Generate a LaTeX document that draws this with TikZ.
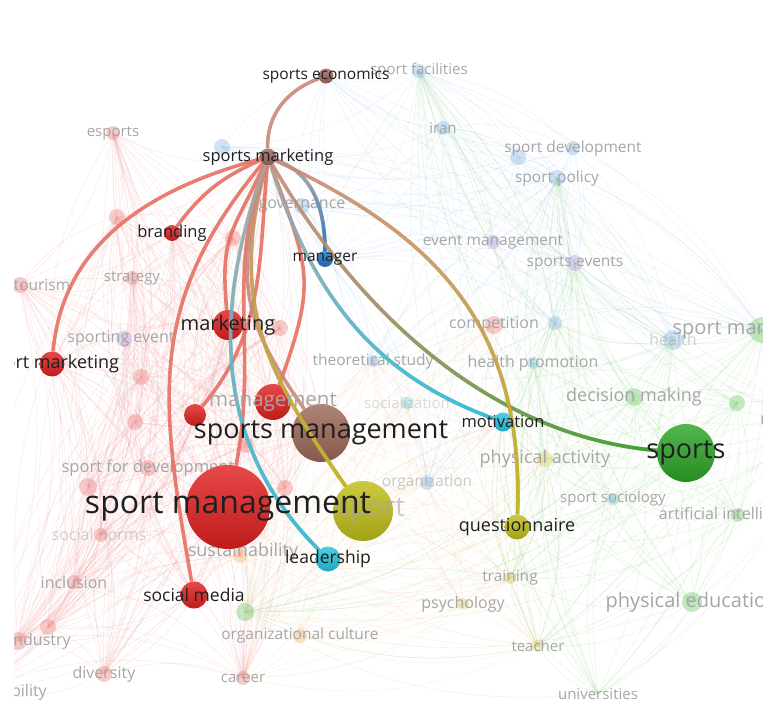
\documentclass[tikz,border=0pt]{standalone}
\usepackage{fontspec}
\setmainfont{Open Sans}
\usetikzlibrary{positioning,fadings}
\definecolor{vred}{RGB}{225,32,32}
\definecolor{vbrown}{RGB}{158,104,90}
\definecolor{volive}{RGB}{192,190,25}
\definecolor{vgreen}{RGB}{45,165,40}
\definecolor{vcyan}{RGB}{40,195,225}
\definecolor{vblue}{RGB}{35,115,200}
\definecolor{lnred}{RGB}{230,112,98}
\definecolor{lnbrown}{RGB}{200,138,122}
\definecolor{lngrey}{RGB}{172,165,160}
\definecolor{fpink}{RGB}{236,140,140}
\definecolor{fblue}{RGB}{150,190,230}
\definecolor{fgreen}{RGB}{130,205,120}
\definecolor{fyell}{RGB}{225,210,110}
\definecolor{fpurp}{RGB}{190,165,225}
\definecolor{fcyan}{RGB}{130,205,230}
\definecolor{forng}{RGB}{245,190,130}
\tikzset{
    %Define keyword bubbles
    bub/.style 2 args={
           circle, inner sep=0pt,
           minimum size=#2pt,
           top color=#1!82!white,
           bottom color=#1!85!black},
    fbub/.style 2 args={
           circle, inner sep=0pt,
           minimum size=#2pt,
           fill=#1, opacity=0.45},
    %Define labels
    tag/.style={
           font=\fontsize{#1}{#1}\selectfont,
           inner sep=0pt, text=black!88},
    ftag/.style={
           font=\fontsize{#1}{#1}\selectfont,
           inner sep=0pt, text=black!35},
    % Define link styles
    link/.style={
           draw=#1,
           line width=3.6pt,
           opacity=0.9},
    tint/.style={
           postaction={draw=#1, path fading=north}},
    web/.style={
           draw=#1,
           line width=0.7pt,
           opacity=0.16},
}
\begin{document}
\begin{tikzpicture}[x=1pt, y=1pt]
 \useasboundingbox (0,0) rectangle (763,702);
 \clip (14,0) rectangle (763,660);
 %positions
 \coordinate (econ) at (326,626);
 \coordinate (smkt) at (268,545);
 \coordinate (spmkt) at (52,338);
 \coordinate (brand) at (172,469);
 \coordinate (mgr) at (325,443);
 \coordinate (mkt) at (228,377);
 \coordinate (rsm) at (195,287);
 \coordinate (mgmt) at (273,300);
 \coordinate (smg) at (321,269);
 \coordinate (spm) at (228,195);
 \coordinate (sport) at (363,191);
 \coordinate (lead) at (328,143);
 \coordinate (socm) at (194,107);
 \coordinate (motiv) at (503,280);
 \coordinate (quest) at (517,175);
 \coordinate (sports) at (686,249);
 \coordinate (fac) at (419,631);
 \coordinate (iran) at (443,574);
 \coordinate (sdev) at (573,554);
 \coordinate (sdv2) at (518,545);
 \coordinate (spol) at (557,524);
 \coordinate (gov) at (302,496);
 \coordinate (bl1) at (222,555);
 \coordinate (hlth) at (673,362);
 \coordinate (bl2) at (555,379);
 \coordinate (theo) at (373,341);
 \coordinate (orgn) at (427,219);
 \coordinate (evm) at (493,460);
 \coordinate (sev) at (575,439);
 \coordinate (comp) at (494,377);
 \coordinate (hp) at (533,339);
 \coordinate (soc) at (613,203);
 \coordinate (sclz) at (407,299);
 \coordinate (smR) at (762,372);
 \coordinate (dm) at (634,305);
 \coordinate (gr1) at (737,299);
 \coordinate (mach) at (825,282);
 \coordinate (pe) at (692,100);
 \coordinate (ai) at (738,187);
 \coordinate (univ) at (598,8);
 \coordinate (gr2) at (245,90);
 \coordinate (pa) at (545,243);
 \coordinate (trn) at (510,124);
 \coordinate (psy) at (463,98);
 \coordinate (tch) at (538,56);
 \coordinate (oc) at (300,66);
 \coordinate (sust) at (240,146);
 \coordinate (car) at (243,24);
 \coordinate (esp) at (113,569);
 \coordinate (strat) at (132,424);
 \coordinate (tour) at (20,417);
 \coordinate (spev) at (124,363);
 \coordinate (sfd) at (148,234);
 \coordinate (pk1) at (88,215);
 \coordinate (snorm) at (101,167);
 \coordinate (incl) at (74,120);
 \coordinate (ind1) at (18,61);
 \coordinate (ind2) at (48,75);
 \coordinate (div) at (104,28);
 \coordinate (resp) at (-26,10);
 \coordinate (pk2) at (117,485);
 \coordinate (pk3) at (233,464);
 \coordinate (pk4) at (280,374);
 \coordinate (pk5) at (141,325);
 \coordinate (pk6) at (135,280);
 \coordinate (pk7) at (246,257);
 \coordinate (pk8) at (285,214);
 %faded links
 \foreach \grp/\ink in {
   {spmkt,brand,mkt,rsm,mgmt,spm,socm,smkt,esp,strat,tour,spev,sfd,pk1,snorm,incl,ind1,ind2,div,resp,pk2,pk3,pk4,pk5,pk6,pk7,pk8,car,sust,smg}/fpink,
   {fac,iran,sdev,sdv2,spol,gov,bl1,mgr,hlth,bl2,theo,orgn,smR,econ,evm,sev}/fblue,
   {sports,smR,dm,gr1,mach,pe,ai,univ,hlth,soc,hp,pa,tch,gr2,sev,spol,fac,trn,quest,motiv,bl2}/fgreen,
   {sport,quest,pa,trn,psy,tch,oc,sust,gr2,car,motiv,lead,orgn,smg,spm,comp,theo,sclz}/forng}
   \foreach \a [count=\i] in \grp
     \foreach \b [count=\j] in \grp
       {\ifnum\j>\i \draw[web=\ink] (\a) to[bend left=18] (\b); \fi}
 %faded keywords
 \foreach \p/\ink/\s in {fac/fblue/14, iran/fblue/14, sdev/fblue/14, sdv2/fblue/16,
   spol/fblue/16, gov/fblue/16, bl1/fblue/16, hlth/fblue/20, bl2/fblue/14, theo/fblue/12,
   orgn/fblue/14, evm/fpurp/14, sev/fpurp/16, comp/fpink/18, hp/fcyan/12, soc/fcyan/12,
   sclz/fcyan/12, smR/fgreen/26, dm/fgreen/18, gr1/fgreen/16, pe/fgreen/20, ai/fgreen/14,
   gr2/fgreen/18, pa/fyell/16, trn/fyell/12, psy/fyell/12, tch/fyell/12, oc/forng/14,
   sust/forng/14, car/fpink/14, esp/fpink/14, strat/fpink/14, tour/fpink/16, spev/fpurp/16,
   sfd/fpink/16, pk1/fpink/18, snorm/fpink/14, incl/fpink/14, ind1/fpink/18, ind2/fpink/16,
   div/fpink/16, pk2/fpink/16, pk3/fpink/16, pk4/fpink/16, pk5/fpink/16, pk6/fpink/16,
   pk7/fpink/16, pk8/fpink/16}
   \node[fbub={\ink}{\s}] (\p D) at (\p) {};
 \node[ftag=15] (facT) at (fac) {sport facilities};
 \node[ftag=15] (iranT) at (iran) {iran};
 \node[ftag=15.5] (sdevT) at (sdev) {sport development};
 \node[ftag=15.5] (spolT) at (spol) {sport policy};
 \node[ftag=16] (govT) at (gov) {governance};
 \node[ftag=16, text opacity=0.5] (hlthT) at (hlth) {health};
 \node[ftag=15.5] (theoT) at (theo) {theoretical study};
 \node[ftag=15.5, text opacity=0.6] (orgnT) at (orgn) {organization};
 \node[ftag=15.5] (evmT) at (evm) {event management};
 \node[ftag=15.5] (sevT) at (sev) {sports events};
 \node[ftag=16] (compT) at (comp) {competition};
 \node[ftag=16] (hpT) at (hp) {health promotion};
 \node[ftag=15] (socT) at (soc) {sport sociology};
 \node[ftag=15, text opacity=0.4] (sclzT) at (sclz) {socialization};
 \node[ftag=20] (smRT) at (smR) {sport management};
 \node[ftag=18] (dmT) at (dm) {decision making};
 \node[ftag=16] (machT) at (mach) {machine learning};
 \node[ftag=20] (peT) at (pe) {physical education};
 \node[ftag=16] (aiT) at ([xshift=-5]ai) {artificial intelligence};
 \node[ftag=15] (univT) at (univ) {universities};
 \node[ftag=18] (paT) at (pa) {physical activity};
 \node[ftag=15.5] (trnT) at (trn) {training};
 \node[ftag=16] (psyT) at (psy) {psychology};
 \node[ftag=15] (tchT) at (tch) {teacher};
 \node[ftag=15.5] (ocT) at ([yshift=1]oc) {organizational culture};
 \node[ftag=18] (sustT) at ([xshift=3,yshift=4]sust) {sustainability};
 \node[ftag=15] (carT) at (car) {career};
 \node[ftag=15] (espT) at (esp) {esports};
 \node[ftag=15] (stratT) at (strat) {strategy};
 \node[ftag=15.5] (tourT) at ([xshift=22]tour) {tourism};
 \node[ftag=16] (spevT) at ([xshift=-3]spev) {sporting event};
 \node[ftag=16.5] (sfdT) at (sfd) {sport for development};
 \node[ftag=16, text opacity=0.5] (snormT) at ([xshift=-2]snorm) {social norms};
 \node[ftag=16] (inclT) at (incl) {inclusion};
 \node[ftag=16] (indT) at ([xshift=22]ind1) {industry};
 \node[ftag=16] (divT) at (div) {diversity};
 \node[ftag=16] (respT) at (resp) {social responsibility};
 %keywords
 \node[bub={vred}{84}] (spmN) at (spm) {};
 \node[bub={volive}{60}] (sportN) at (sport) {};
 \node[bub={vbrown}{58}] (smgN) at (smg) {};
 \node[bub={vred}{36}] (mgmtN) at (mgmt) {};
 \node[bub={vred}{22}] (rsmN) at (rsm) {};
 \node[bub={vred}{30}] (mktN) at (mkt) {};
 \node[bub={vred}{25}] (spmktN) at (spmkt) {};
 \node[bub={vred}{16}] (brandN) at (brand) {};
 \node[bub={vred}{27}] (socmN) at (socm) {};
 \node[bub={vbrown}{17}] (smktN) at (smkt) {};
 \node[bub={vbrown}{15}] (econN) at (econ) {};
 \node[bub={vblue}{16}] (mgrN) at (mgr) {};
 \node[bub={vcyan}{25}] (leadN) at (lead) {};
 \node[bub={vcyan}{19}] (motivN) at (motiv) {};
 \node[bub={volive}{25}] (questN) at (quest) {};
 \node[bub={vgreen}{58}] (sportsN) at (sports) {};
 %links
 \draw[link=lnbrown] (smktN) to[out=92,in=200] (econN);
 \draw[link=lnred] (smktN) to[out=195,in=85] (spmktN);
 \draw[link=lnred] (smktN) to[bend right=15] (brandN);
 \draw[link=lnred] (smktN) to[out=245,in=95,looseness=1.3] (mktN);
 \draw[link=lnred] (smktN) to[out=265,in=50] (rsmN);
 \draw[link=lnred] (smktN) to[out=290,in=70,looseness=1.3] (mgmtN);
 \draw[link=lnred] (smktN) to[out=250,in=79] (spmN);
 \draw[link=lnred] (smktN) to[out=230,in=100,looseness=1.1] (socmN);
 \draw[link=lnbrown] (smktN) to[out=255,in=125,looseness=1.2] (smgN);
 \draw[link=lnbrown, tint=volive] (smktN) to[out=255,in=125,looseness=1.1] (sportN);
 \draw[link=lngrey, tint=vcyan] (smktN) to[out=250,in=135] (leadN);
 \draw[link=lngrey, tint=vblue] (smktN) to[out=340,in=90] (mgrN);
 \draw[link=lngrey, tint=vcyan] (smktN) to[out=288,in=160] (motivN);
 \draw[link=lnbrown, postaction={draw=vgreen, path fading=west}] (smktN) to[out=300,in=175,looseness=0.9] (sportsN);
 \draw[link=lnbrown, tint=volive] (smktN) to[out=335,in=88,looseness=1.1] (questN);
 %labels
 \node[ftag=20.5] (mgmtT) at (mgmt) {management};
 \node[ftag=28, text opacity=0.6] (sportT) at ([xshift=8]sport) {sport};
 \node[tag=15.5] (econT) at (econ) {sports economics};
 \node[tag=16.5] (smktT) at (smkt) {sports marketing};
 \node[tag=16.5] (brandT) at (brand) {branding};
 \node[tag=15.5] (mgrT) at (mgr) {manager};
 \node[tag=20] (mktT) at (mkt) {marketing};
 \node[tag=18] (spmktT) at (spmkt) {sport marketing};
 \node[tag=27] (smgT) at (smg) {sports management};
 \node[tag=32] (spmT) at (spm) {sport management};
 \node[tag=17.5] (leadT) at (lead) {leadership};
 \node[tag=17.5] (socmT) at (socm) {social media};
 \node[tag=16.5] (motivT) at (motiv) {motivation};
 \node[tag=18] (questT) at (quest) {questionnaire};
 \node[tag=27] (sportsT) at (sports) {sports};
\end{tikzpicture}
\end{document}
